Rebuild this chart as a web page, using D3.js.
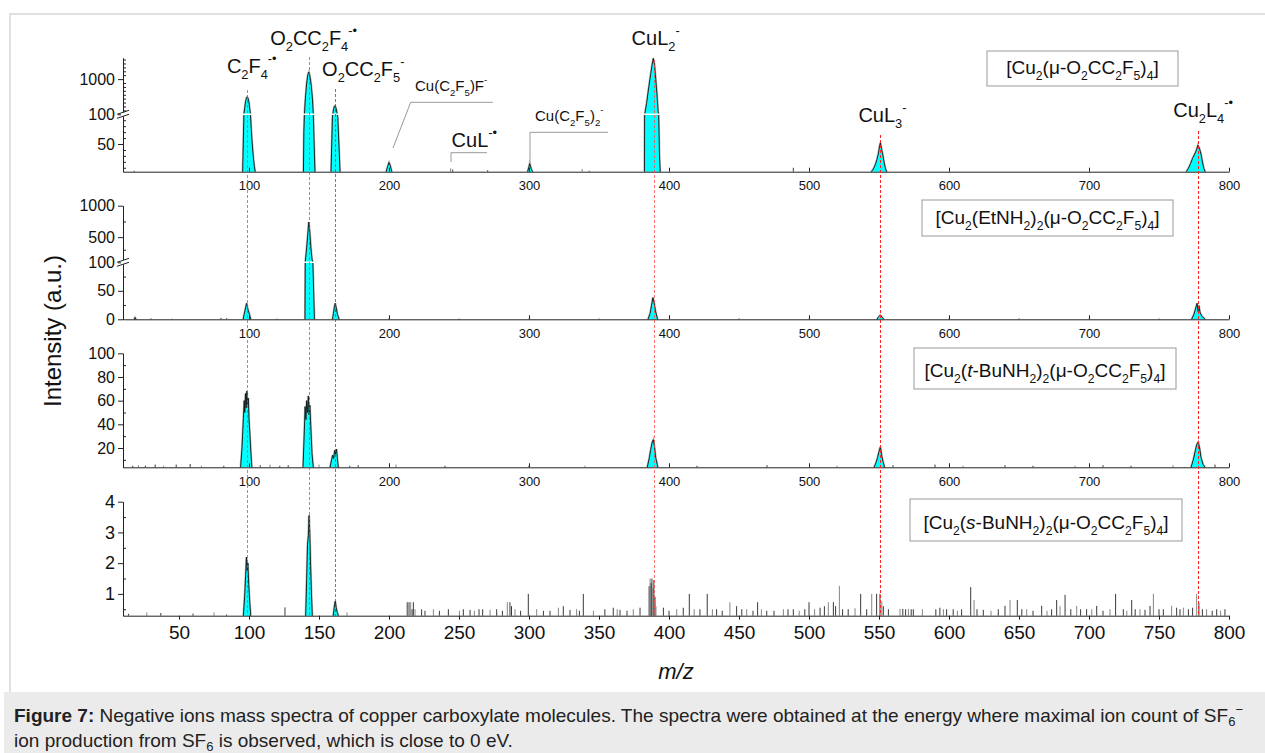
<!DOCTYPE html>
<html>
<head>
<meta charset="utf-8">
<script src="https://cdn.jsdelivr.net/npm/d3@7"></script>
<style>
body { margin: 0; background: #fff; font-family: "Liberation Sans", Arial, sans-serif; }
svg { display: block; }
</style>
</head>
<body>
<svg id="chart" width="1265" height="753"></svg>
<script>
// ---- data ----
const mzTicks = [100, 200, 300, 400, 500, 600, 700, 800];
const mzMinor = [50, 150, 250, 350, 450, 550, 650, 750];
const mzTicksBottom = [50, 100, 150, 200, 250, 300, 350, 400, 450, 500, 550, 600, 650, 700, 750, 800];
const mzMinorBottom = [25, 75, 125, 175, 225, 275, 325, 375, 425, 475, 525, 575, 625, 675, 725, 775];

const ionMz = [98.5, 143, 161.5, 389, 551, 778];
const ionNames = ["C_{2}F_{4}^{-•}", "O_{2}CC_{2}F_{4}^{-•}", "O_{2}CC_{2}F_{5}^{-}", "CuL_{2}^{-}", "CuL_{3}^{-}", "Cu_{2}L_{4}^{-•}"];
const minorIonMz = [200, 244, 300];
const minorIonNames = ["Cu(C_{2}F_{5})F^{-}", "CuL^{-•}", "Cu(C_{2}F_{5})_{2}^{-}"];

const sampleNames = [
  "[Cu_{2}(μ-O_{2}CC_{2}F_{5})_{4}]",
  "[Cu_{2}(EtNH_{2})_{2}(μ-O_{2}CC_{2}F_{5})_{4}]",
  "[Cu_{2}(*{t}-BuNH_{2})_{2}(μ-O_{2}CC_{2}F_{5})_{4}]",
  "[Cu_{2}(*{s}-BuNH_{2})_{2}(μ-O_{2}CC_{2}F_{5})_{4}]"
];

// panel 1: [Cu2(O2CC2F5)4]
const ticksCuLow = [50, 100], ticksCuUp = [1000];
const minorCuLow = [10, 20, 30, 40, 60, 70, 80, 90], minorCuUp = [200, 300, 400, 500, 600, 700, 800, 900, 1100, 1200, 1300, 1400, 1500];
const peaksCu = [
  [[95.5,3.4],[96,60],[96.4,110],[97,280],[97.6,430],[98.2,520],[98.7,545],[99.3,510],[99.9,420],[100.5,250],[101,110],[101.6,75],[102.3,50],[103,30],[103.8,12],[104.4,3.4]],
  [[138.9,3.4],[139.2,70],[139.6,110],[140.3,500],[141.2,900],[142.1,1120],[142.8,1180],[143.5,1080],[144.4,850],[145.3,500],[145.9,110],[146.4,60],[147.1,3.4]],
  [[158.6,3.4],[159,40],[159.6,95],[160.2,180],[160.9,300],[161.5,315],[162.2,250],[162.8,140],[163.4,95],[164.2,50],[165,3.4]],
  [[198,3.4],[199,12],[200,19],[201,13],[202,3.4]],
  [[299,3.4],[300,12],[300.5,17],[301.5,9],[302.5,3.4]],
  [[382.5,3.4],[382.6,100],[383,170],[384,380],[385,650],[386,900],[387,1150],[388,1380],[388.8,1530],[389.6,1380],[390.4,1050],[391.3,650],[392.2,180],[392.6,100],[393.2,30],[393.7,3.4]],
  [[544.5,3.4],[546,8],[547.5,16],[548.5,24],[549.5,33],[550.3,45],[551,52],[551.8,42],[552.7,32],[553.7,18],[554.7,8],[555.5,3.4]],
  [[769.5,3.4],[771,9],[772.5,17],[774,26],[775.5,33],[776.8,40],[777.8,48],[778.8,43],[780,33],[781,20],[782,9],[783,3.4]]
];
const spikesCu = [[18,5],[244,9],[245.5,7],[270.5,6],[338,8],[343,5],[488.8,10]];

// panel 2: [Cu2(EtNH2)2(O2CC2F5)4]
const ticksEtLow = [0, 50, 100], ticksEtUp = [500, 1000];
const minorEtLow = [25, 75], minorEtUp = [300, 750];
const peaksEt = [
  [[18,0],[18.6,3],[19.3,0]],
  [[95.8,0],[96.5,8],[97.4,18],[98.3,28],[98.9,21],[99.5,15],[100.3,9],[101.2,0]],
  [[140,0],[140.2,100],[140.9,260],[141.9,520],[142.7,740],[143.4,590],[144.2,330],[145,150],[145.6,100],[146.7,0]],
  [[159.6,0],[160.3,10],[161,22],[161.6,28],[162.3,20],[163.2,8],[164.4,0]],
  [[385,0],[386.5,10],[387.5,24],[388.5,38],[389.3,30],[390.3,15],[391.8,0]],
  [[548.5,0],[550,5],[551,7.5],[552,4],[553.5,0]],
  [[773.3,0],[775,9],[776.5,22],[777.2,28],[777.8,14],[778.5,24],[779.3,12],[780.5,6],[782.9,0]]
];
const spikesEt = [[30,1.5],[45,1.2],[80,2.5],[84,2],[120,1.5],[200,1.5],[250,1.2],[300,1.8],[350,1.2],[450,1.5],[500,1.5],[600,1.2],[650,1.5],[700,1.4],[750,1.2]];

// panel 3: [Cu2(t-BuNH2)2(O2CC2F5)4]
const ticksTbu = [20, 40, 60, 80, 100];
const minorTbu = [10, 30, 50, 70, 90];
const peaksTbu = [
  [[94,3.7],[95,20],[96,45],[96.6,60],[97,50],[97.5,66],[98,54],[98.5,68],[99,57],[99.5,62],[100,44],[100.7,30],[101.4,15],[102,3.7]],
  [[138.6,3.7],[139.4,30],[140.1,55],[140.7,44],[141.2,60],[141.8,50],[142.4,64],[142.9,48],[143.5,56],[144.2,36],[145,15],[145.9,3.7]],
  [[157.9,3.7],[159,10],[159.8,14],[160.5,11],[161.2,18],[161.8,15],[162.5,19],[163.2,10],[163.8,3.7]],
  [[384.5,3.7],[386,12],[387,19],[388,25],[388.8,27],[389.5,22],[390.5,12],[392,3.7]],
  [[546.5,3.7],[548,8],[549,12],[550,17],[551,21],[552,13],[553,8],[554,3.7]],
  [[772.9,3.7],[774.5,10],[776,18],[777,23],[778,25],[779,20],[780,12],[781.5,6],[782.9,3.7]]
];
const spikesTbu = [[17,5],[21,5.5],[26,5],[33,6],[39,5],[48,6],[58,6.5],[66,5],[82,5],[108,5.5],[115,6],[122,5],[128,5.5],[150,6],[172,5],[178,5.5],[205,6],[240,5],[300,5],[340,5],[420,5],[470,5.5],[520,5],[560,5.5],[590,6],[610,5],[640,5.5],[660,5],[690,5],[710,5.5],[730,5],[760,5.5],[790,6]];

// panel 4: [Cu2(s-BuNH2)2(O2CC2F5)4]
const ticksSbu = [1, 2, 3, 4];
const minorSbu = [0.5, 1.5, 2.5, 3.5];
const peaksSbu = [
  [[96,0.29],[97,1.0],[97.6,1.6],[98.2,2.2],[98.7,1.75],[99.2,2.0],[99.8,1.3],[100.5,0.75],[101.2,0.29]],
  [[140.5,0.29],[141.2,1.5],[141.8,2.6],[142.4,2.9],[142.9,3.55],[143.4,3.0],[144,1.9],[144.6,1.0],[145.2,0.29]],
  [[160.2,0.29],[161,0.6],[161.6,0.76],[162.3,0.55],[163,0.4],[163.8,0.29]]
];
const spikesSbu = [
  [14,0.35],[27,0.4],[37,0.38],[60,0.36],[75,0.4],[84,0.33],[125.7,0.56],[170,0.4],
  [213,0.73],[214.3,0.73],[215.5,0.73],[216.5,0.5],[217.4,0.73],[218.6,0.5],[223.3,0.5],[225.7,0.45],[231.7,0.5],[236,0.45],
  [242.4,0.5],[250.3,0.45],[253.1,0.5],[257.9,0.48],[261,0.45],[264.3,0.5],[266.9,0.5],[272.2,0.48],[276.9,0.5],[281,0.45],
  [284.5,0.73],[286.4,0.73],[287.5,0.6],[290,0.5],[294,0.45],[299.5,1.0],[305.5,0.5],[310.3,0.45],[315,0.45],[321,0.55],
  [324.5,0.6],[329.3,0.48],[334,0.5],[336,0.45],[338.8,1.0],[346,0.45],[354.2,0.5],[360.2,0.55],[363,0.5],[365,0.48],
  [370,0.45],[374.5,0.5],[379.3,0.55],
  [385.8,1.25],[386.5,1.5],[387.2,1.35],[387.8,1.5],[388.5,1.2],[389.2,1.45],[390,0.9],[390.7,0.6],
  [396,0.55],[400,0.45],[405.5,0.5],[410.2,0.55],[414.5,1.0],[418,0.5],[422.1,0.5],[427.3,1.0],[431,0.5],[434,0.5],
  [438,0.45],[443.5,0.73],[448.3,0.6],[452,0.5],[455.5,0.5],[460,0.45],[463.3,0.73],[466,0.5],[469.8,0.45],[475,0.45],
  [481.7,0.5],[485,0.5],[488.8,0.5],[493,0.45],[497,0.5],[500,0.73],[504,0.5],[507.9,0.55],[511,0.6],[513.8,0.73],
  [517.4,0.73],[519,0.6],[521.7,1.26],[524,0.5],[528,0.5],[532.9,0.53],[536.9,1.0],[541.2,0.5],[544.8,1.0],[548.3,1.0],
  [550.7,1.0],[552,0.75],[553.1,0.6],[556.7,0.5],[565,0.51],[567,0.51],[569,0.5],[571,0.51],[573,0.5],[574.5,0.5],
  [581,0.5],[590.6,0.5],[593.5,0.55],[596,0.5],[598.3,0.5],[603,0.5],[606,0.45],[609,0.5],[615.5,1.22],[617.9,0.8],
  [620,0.5],[624.5,0.48],[630,0.45],[635.2,0.5],[640,0.61],[643.6,0.8],[648.8,0.8],[652,0.5],[655.5,0.5],[660,0.45],
  [666.2,0.61],[670,0.45],[673.3,0.5],[676.9,0.8],[679.3,0.6],[682.9,0.97],[687,0.5],[691.2,0.61],[694,0.5],[698.3,0.5],
  [702,0.5],[705.5,0.61],[710,0.45],[715,0.5],[719,1.0],[724.5,0.5],[727,0.45],[730.5,0.8],[733,0.5],[736.4,0.5],
  [740,0.48],[743.6,0.61],[746,1.0],[750,0.5],[753.1,0.5],[759,0.61],[762.6,0.55],[765,0.5],[767.4,0.55],[771,0.5],
  [774,0.55],[776.9,1.0],[778.5,0.7],[781,0.5],[784,0.5],[788,0.45],[791.2,0.5],[794,0.45],[797.1,0.5]
];

// ---- helpers ----
const svg = d3.select("#chart");
const FONT = '"Liberation Sans", Arial, sans-serif';

// simple markup: _{sub} ^{sup} *{italic}
function richText(sel, str, size) {
  const re = /_\{([^}]*)\}|\^\{([^}]*)\}|\*\{([^}]*)\}|([^_^*]+)/g;
  let m, shift = 0;
  while ((m = re.exec(str))) {
    const t = sel.append("tspan");
    let target = 0, small = false, txt;
    if (m[1] !== undefined) { target = 0.32 * size; small = true; txt = m[1]; }
    else if (m[2] !== undefined) { target = -0.52 * size; small = true; txt = m[2]; }
    else if (m[3] !== undefined) { txt = m[3]; t.attr("font-style", "italic"); }
    else txt = m[4];
    t.attr("dy", target - shift).text(txt);
    if (small) t.attr("font-size", size * 0.64);
    shift = target;
  }
  return sel;
}

const x = d3.scaleLinear().domain([10, 800]).range([123, 1229]);
const fmt = d3.format("d");
const snap = v => Math.round(v) + 0.5;

// ---- frame + caption ----
svg.append("rect").attr("x", 10).attr("y", 14).attr("width", 1300).attr("height", 700)
  .attr("fill", "none").attr("stroke", "#e0e0e0").attr("stroke-width", 2);
svg.append("rect").attr("x", 4).attr("y", 692).attr("width", 1261).attr("height", 61).attr("fill", "#ebebeb");

const cap1 = svg.append("text").attr("x", 14).attr("y", 722).attr("font-family", FONT).attr("font-size", 19).attr("fill", "#222");
cap1.append("tspan").attr("font-weight", "bold").text("Figure 7:");
cap1.append("tspan").text(" Negative ions mass spectra of copper carboxylate molecules. The spectra were obtained at the energy where maximal ion count of SF");
cap1.append("tspan").attr("font-size", 13).attr("dy", 4).text("6");
cap1.append("tspan").attr("font-size", 13).attr("dy", -12).text("−");
const cap2 = svg.append("text").attr("x", 14).attr("y", 747).attr("font-family", FONT).attr("font-size", 19).attr("fill", "#222");
cap2.append("tspan").text("ion production from SF");
cap2.append("tspan").attr("font-size", 13).attr("dy", 4).text("6");
cap2.append("tspan").attr("dy", -4).text(" is observed, which is close to 0 eV.");

// ---- panels ----
const panels = [
  { peaks: peaksCu, spikes: spikesCu, low: d3.scaleLinear().domain([3.4, 100]).range([171.7, 114.3]),
    up: d3.scaleLinear().domain([100, 1540]).range([114.3, 58]),
    lowTicks: ticksCuLow, upTicks: ticksCuUp, lowMinor: minorCuLow, upMinor: minorCuUp,
    legend: { x: 987, y: 51, w: 191, h: 35, base: 74 } },
  { peaks: peaksEt, spikes: spikesEt, low: d3.scaleLinear().domain([0, 100]).range([319.3, 262.3]),
    up: d3.scaleLinear().domain([100, 1000]).range([262.3, 205.7]),
    lowTicks: ticksEtLow, upTicks: ticksEtUp, lowMinor: minorEtLow, upMinor: minorEtUp,
    legend: { x: 922, y: 200, w: 251, h: 36, base: 224 } },
  { peaks: peaksTbu, spikes: spikesTbu, low: d3.scaleLinear().domain([3.7, 100]).range([467.3, 353.3]),
    up: null, lowTicks: ticksTbu, lowMinor: minorTbu,
    legend: { x: 914, y: 348, w: 262, h: 41, base: 377 } },
  { peaks: peaksSbu, spikes: spikesSbu, low: d3.scaleLinear().domain([0.29, 4]).range([615.7, 501.7]),
    up: null, lowTicks: ticksSbu, lowMinor: minorSbu, bottom: true,
    legend: { x: 910, y: 499, w: 272, h: 42, base: 529 } }
];

panels.forEach((p, i) => {
  const g = svg.append("g");
  const base = p.low.range()[0];
  const lo = p.low.domain()[0];
  const y = v => (p.up && v > 100) ? p.up(v) : p.low(Math.max(v, lo));

  // spectrum areas
  const area = d3.area().x(d => x(d[0])).y0(base).y1(d => y(d[1]));
  const line = d3.line().x(d => x(d[0])).y(d => y(d[1]));
  g.selectAll(".halo").data(p.peaks).enter().append("path")
    .attr("d", line).attr("fill", "none").attr("stroke", "#888").attr("stroke-width", 2.2).attr("opacity", 0.6);
  g.selectAll(".pk").data(p.peaks).enter().append("path")
    .attr("d", area).attr("fill", "#00ffff").attr("stroke", "none");
  g.selectAll(".pkl").data(p.peaks).enter().append("path")
    .attr("d", line).attr("fill", "none").attr("stroke", "#111").attr("stroke-width", 0.9);

  // noise spikes
  g.selectAll(".sp").data(p.spikes).enter().append("line")
    .attr("x1", d => x(d[0])).attr("x2", d => x(d[0]))
    .attr("y1", base).attr("y2", d => y(d[1]))
    .attr("stroke", (d, j) => j % 3 === 1 ? "#777" : "#222").attr("stroke-width", 0.9);

  // white cut at axis break
  if (p.up) {
    g.append("line").attr("x1", x(10) + 2).attr("x2", x(800)).attr("y1", p.up.range()[0]).attr("y2", p.up.range()[0])
      .attr("stroke", "#fff").attr("stroke-width", 1.5);
  }

  // x axis
  const xa = g.append("g").attr("transform", `translate(0,${base})`);
  if (p.bottom) {
    xa.call(d3.axisBottom(x).tickValues(mzMinorBottom).tickSize(-2.5).tickFormat(""));
    xa.call(d3.axisBottom(x).tickValues(mzTicksBottom).tickSize(4).tickSizeOuter(0).tickPadding(6));
    xa.selectAll("text").attr("font-size", 19);
  } else {
    xa.call(d3.axisBottom(x).tickValues(mzMinor).tickSize(3).tickFormat(""));
    xa.call(d3.axisBottom(x).tickValues(mzTicks).tickSize(-4).tickSizeOuter(0).tickPadding(7));
    xa.selectAll("text").attr("font-size", 13).attr("dy", "0.9em");
  }

  // y axis (broken where needed)
  const ya = g.append("g").attr("transform", `translate(${x(10)},0)`);
  ya.append("g").call(d3.axisLeft(p.low).tickValues(p.lowMinor).tickSize(-3).tickSizeOuter(0).tickFormat(""));
  ya.append("g").call(d3.axisLeft(p.low).tickValues(p.lowTicks).tickSize(5).tickSizeOuter(0).tickPadding(3).tickFormat(fmt));
  if (p.up) {
    ya.append("g").call(d3.axisLeft(p.up).tickValues(p.upMinor).tickSize(-3).tickSizeOuter(0).tickFormat(""));
    ya.append("g").call(d3.axisLeft(p.up).tickValues(p.upTicks).tickSize(5).tickSizeOuter(0).tickPadding(3).tickFormat(fmt));
    const by = p.up.range()[0];
    ya.append("rect").attr("x", -2).attr("y", by - 2).attr("width", 4).attr("height", 4).attr("fill", "#fff");
    [-2, 2].forEach(o => ya.append("line").attr("x1", -6).attr("x2", 6)
      .attr("y1", by + o + 2).attr("y2", by + o - 2).attr("stroke", "#222").attr("stroke-width", 1));
  }
  ya.selectAll("text").attr("font-size", i === 3 ? 18 : 16);

  g.selectAll(".domain").attr("stroke", "#222");
  g.selectAll(".tick line").attr("stroke", "#222");
  g.selectAll("text").attr("font-family", FONT).attr("fill", "#111");

  // sample legend box
  const L = p.legend;
  g.append("rect").attr("x", L.x).attr("y", L.y).attr("width", L.w).attr("height", L.h)
    .attr("fill", "#fff").attr("stroke", "#999").attr("stroke-width", 1);
  richText(g.append("text").attr("x", L.x + L.w / 2).attr("y", L.base).attr("text-anchor", "middle")
    .attr("font-family", FONT).attr("font-size", 19).attr("fill", "#111"), sampleNames[i], 19);
});

// ---- ion labels and guide lines ----
const ionLayout = [
  { dx: -20, y: 73, top: 90, color: "#ff3333" },
  { dx: -39, y: 45, top: 57, color: "#ff3333" },
  { dx: -13, y: 76, top: 89, color: "#a82828" },
  { dx: -22, y: 45, top: 60, color: "#ff4444" },
  { dx: -22, y: 122, top: 135, color: "#f22" },
  { dx: -25, y: 117, top: 131, color: "#f22" }
];
ionMz.forEach((mz, i) => {
  const L = ionLayout[i];
  svg.append("line").attr("x1", snap(x(mz))).attr("x2", snap(x(mz))).attr("y1", L.top).attr("y2", 615.7)
    .attr("stroke", L.color).attr("stroke-width", 1).attr("stroke-opacity", i < 4 ? 0.75 : 1)
    .attr("stroke-dasharray", "3,2");
  richText(svg.append("text").attr("x", x(mz) + L.dx).attr("y", L.y)
    .attr("font-family", FONT).attr("font-size", 20).attr("fill", "#111"), ionNames[i], 20);
});

const minorLayout = [
  { dx: 26, y: 91, size: 15, lead: [[4, 148], [21.7, 102.3], [103.7, 102.3]] },
  { dx: 1, y: 147, size: 20, lead: [[0.4, 162], [0.4, 152.7], [36.4, 152.7]] },
  { dx: 6, y: 121, size: 15, lead: [[1, 163], [1, 132.3], [79, 132.3]] }
];
minorIonMz.forEach((mz, i) => {
  const L = minorLayout[i];
  svg.append("path").attr("d", d3.line()(L.lead.map(d => [x(mz) + d[0], d[1]])))
    .attr("fill", "none").attr("stroke", "#999").attr("stroke-width", 1);
  richText(svg.append("text").attr("x", x(mz) + L.dx).attr("y", L.y)
    .attr("font-family", FONT).attr("font-size", L.size).attr("fill", "#111"), minorIonNames[i], L.size);
});

// ---- axis titles ----
svg.append("text").attr("transform", "translate(61,331) rotate(-90)").attr("text-anchor", "middle")
  .attr("font-family", FONT).attr("font-size", 24).attr("fill", "#111").text("Intensity (a.u.)");
svg.append("text").attr("x", 676).attr("y", 679).attr("text-anchor", "middle")
  .attr("font-family", FONT).attr("font-size", 22).attr("font-style", "italic").attr("fill", "#111").text("m/z");
</script>
</body>
</html>
